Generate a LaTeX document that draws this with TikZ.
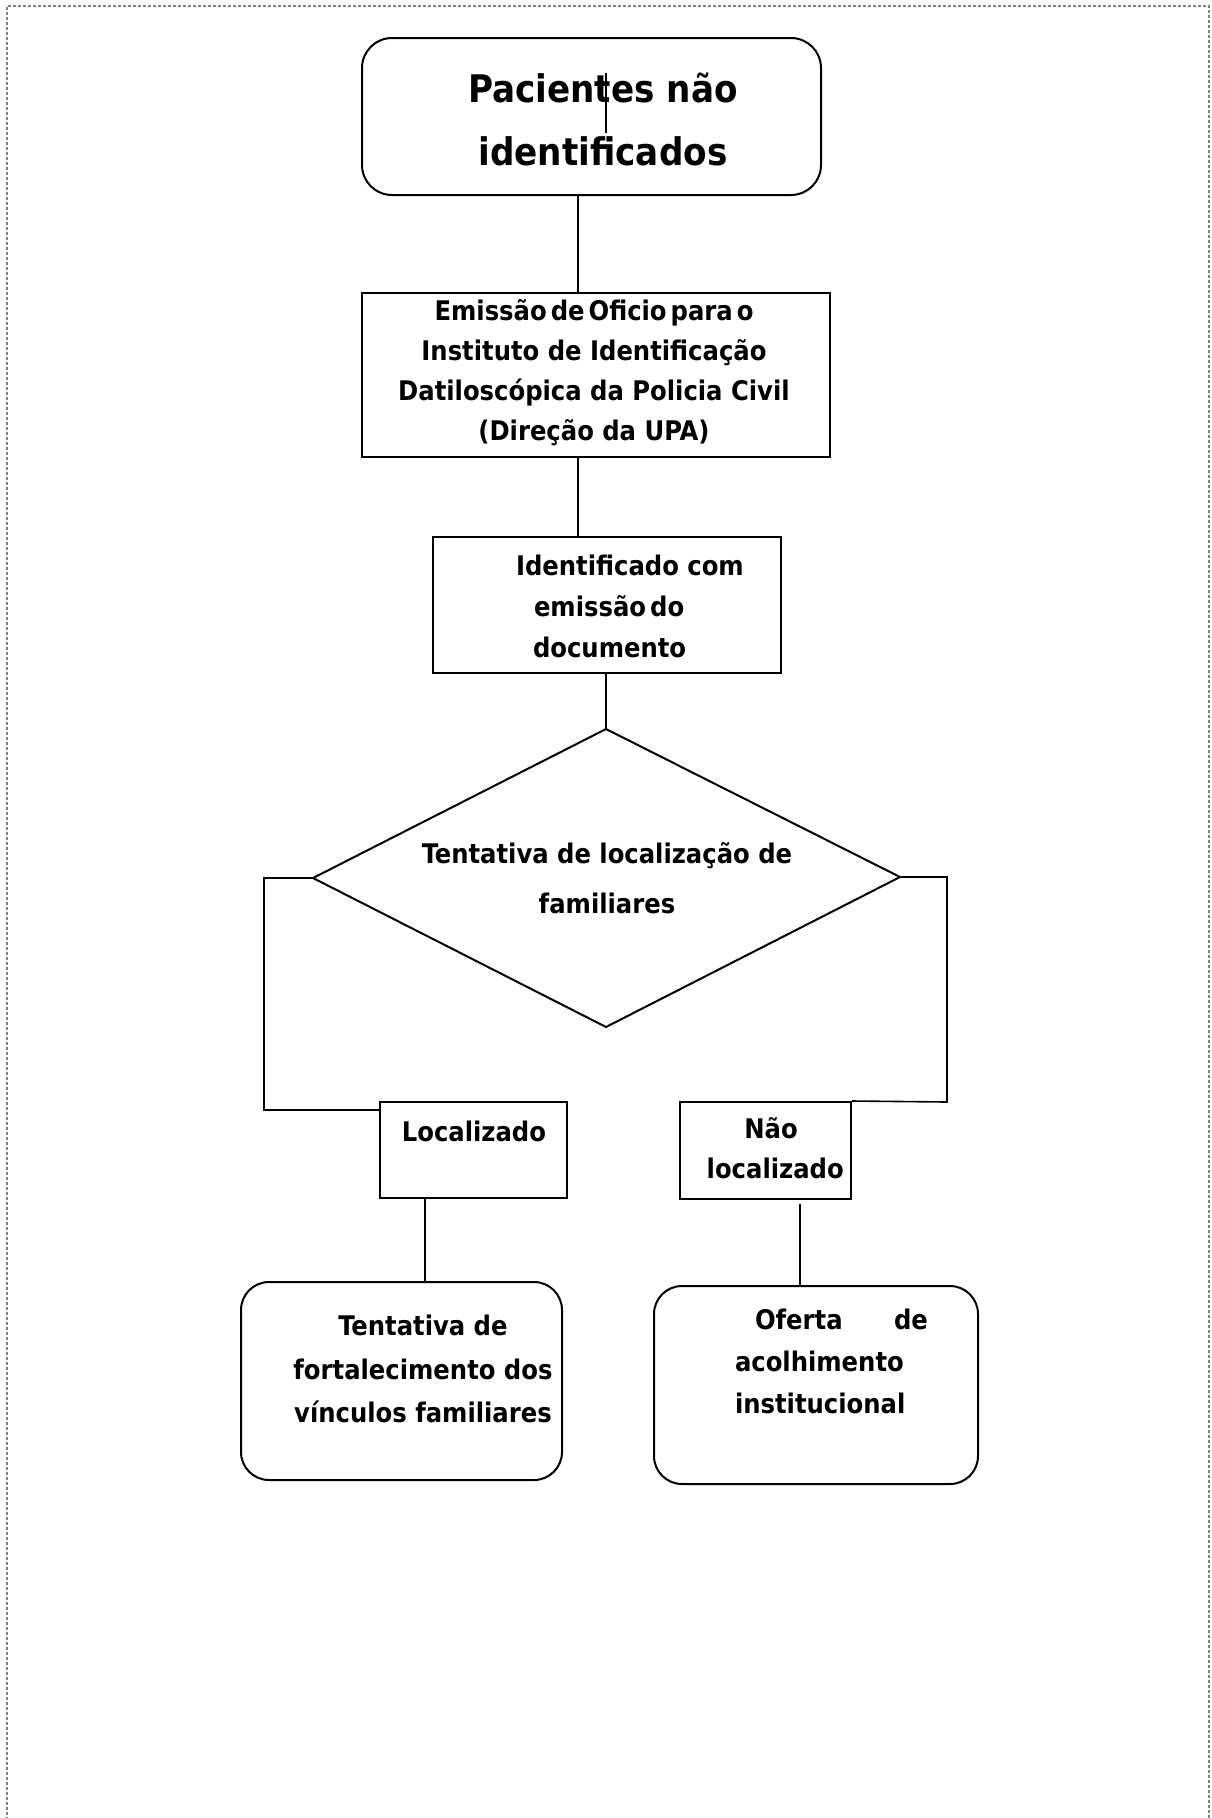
\documentclass[tikz,border=0pt]{standalone}
\usepackage{fontspec}
\setmainfont{DejaVu Sans Condensed}
\usetikzlibrary{calc}
\newcommand{\tightsp}{\spaceskip=4pt plus 1pt minus 1pt\relax}
\begin{document}
\begin{tikzpicture}[x=1pt,y=-1pt,
  line width=2pt,
  rbox/.style={draw,rounded corners=30pt,inner sep=0pt,minimum width=#1},
  sbox/.style={draw,inner sep=0pt},
  txt/.style={inner sep=0pt,font=\bfseries\fontsize{27}{40}\selectfont},
  conn/.style={draw,line width=1.6pt}]
\useasboundingbox (0,0) rectangle (1211,1818);
% dashed page frame
\draw[gray,line width=1.3pt,dash pattern=on 3pt off 2pt] (7,1830) -- (7,6) -- (1209,6) -- (1209,1830);

% top box
\node[rbox=459pt,minimum height=157pt] (top) at (591.5,116.5) {};
\node[inner sep=0pt,align=center,font=\bfseries\fontsize{38}{63}\selectfont] (toptxt) at (603,119) {Pacientes não\\identificados};
\coordinate (s1) at (606,73);
\coordinate (s2) at (606,133);
\draw[conn] (s1) -- (s2);

% box 2
\node[sbox,minimum width=468pt,minimum height=164pt] (box2) at (596,375) {};
\node[txt,align=center] (box2txt) at (594,373) {{\tightsp Emissão de Oficio para o}\\Instituto de Identificação\\Datiloscópica da Policia{\tightsp} Civil\\(Direção da UPA)};
\coordinate (l1) at (578,0);
\draw[conn] (top.south -| l1) -- (box2.north -| l1);

% box 3
\node[sbox,minimum width=348pt,minimum height=136pt] (box3) at (607,605) {};
\node[txt,align=left,anchor=west,font=\bfseries\fontsize{27}{41}\selectfont] (box3txt) at (515,606) {Identificado com\\\hspace*{18pt}{\tightsp emissão do}\\\hspace*{17pt}documento};
\draw[conn] (box2.south -| l1) -- (box3.north -| l1);

% diamond
\coordinate (dn) at (606,729);
\coordinate (dw) at (313,878);
\coordinate (de) at (900,877);
\coordinate (ds) at (606,1027);
\draw (dn) -- (de) -- (ds) -- (dw) -- cycle;
\node[txt,align=center,font=\bfseries\fontsize{27}{50}\selectfont] (diatxt) at (607,878) {Tentativa de localização de\\familiares};
\draw[conn] (box3.south -| dn) -- (dn);

% Localizado / Não localizado
\node[sbox,minimum width=187pt,minimum height=96pt] (loc) at (473.5,1150) {};
\node[txt] (loctxt) at (474,1131) {Localizado};
\node[sbox,minimum width=171pt,minimum height=97pt] (nao) at (765.5,1150.5) {};
\node[txt,align=center] (naotxt) at (771,1148) {Não\\\ localizado};

\coordinate (lc1) at (264,878);
\coordinate (lc2) at (264,1110);
\draw[conn] (dw) -- (lc1) -- (lc2) -- (lc2 -| loc.west);
\coordinate (rc1) at (947,877);
\coordinate (rc2) at (947,1102);
\draw[conn] (de) -- (rc1) -- (rc2) -- (nao.north east);

% bottom boxes
\node[rbox=321pt,minimum height=198pt,rounded corners=28pt] (fam) at (401.5,1381) {};
\node[txt,align=center,font=\bfseries\fontsize{27}{43.5}\selectfont] (famtxt) at (423,1369) {Tentativa de\\fortalecimento dos\\vínculos familiares};
\node[rbox=324pt,minimum height=198pt,rounded corners=28pt] (acol) at (816,1385) {};
\node[txt,align=left,anchor=west,text width=193pt,font=\bfseries\fontsize{27}{42}\selectfont] (acoltxt) at (734,1361) {\hspace*{20pt}Oferta\hfill de\\acolhimento\\institucional};

\coordinate (l2) at (425,0);
\coordinate (l3) at (800,0);
\draw[conn] (loc.south -| l2) -- (fam.north -| l2);
\draw[conn] ($(nao.south -| l3)+(0,4)$) -- (acol.north -| l3);
\end{tikzpicture}
\end{document}
